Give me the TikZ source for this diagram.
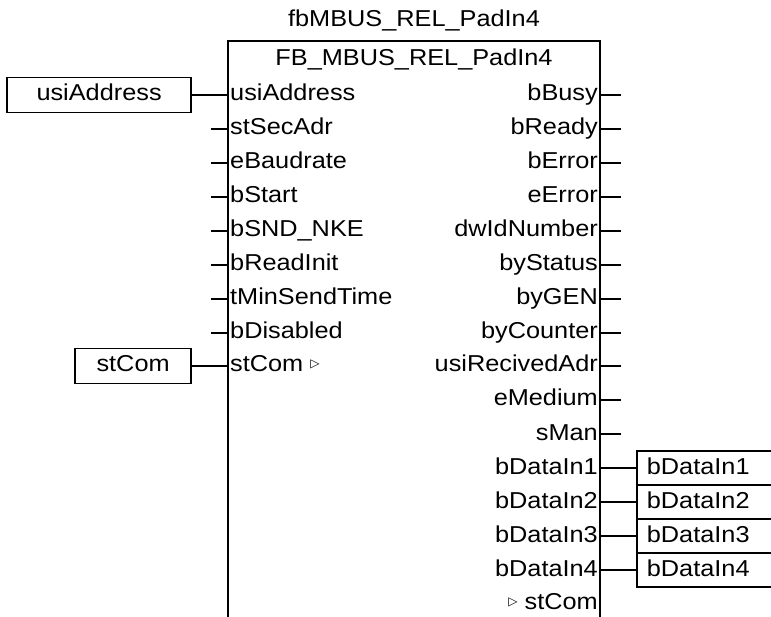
\documentclass[tikz,border=0pt]{standalone}
\usepackage{fontspec}
\setmainfont{Liberation Sans}[FakeStretch=1.1]
\newfontfamily\symfont{DejaVu Sans}
\usetikzlibrary{positioning}
\tikzset{
  fbtext/.style = {inner sep=0pt, text height=17pt, text depth=5pt, font=\fontsize{23}{26}\selectfont},
  pinin/.style  = {fbtext, anchor=west, inner xsep=2pt},
  pinout/.style = {fbtext, anchor=east, inner xsep=2pt},
  varin/.style  = {fbtext, draw, line width=1.8pt, minimum height=35pt},
  varout/.style = {fbtext, draw, line width=1.8pt, minimum height=34pt, inner xsep=10pt},
  wire/.style   = {line width=1.8pt},
}
\newcommand{\reftri}{\raisebox{4pt}{\symfont\fontsize{12}{12}\selectfont ▷}}
\newcommand{\outvar}[1]{\makebox[170pt][l]{#1}}

\begin{document}
\begin{tikzpicture}[x=1pt, y=-1pt]
      \useasboundingbox (0,0) rectangle (771,617);
      \clip (0,0) rectangle (771,617);
      %block
      \node[fbtext] (instname) at (414,21) {fbMBUS\_REL\_PadIn4};
      \node[fbtext] (typename) at (414,60) {FB\_MBUS\_REL\_PadIn4};
      \draw[wire] (228,617) -- (228,41) -- (600,41) -- (600,617);

      %inputs
      \node[pinin] (usiAddrIn) at (228,95) {usiAddress};
      \node[pinin] (stSecAdrIn) at (228,129) {stSecAdr};
      \node[pinin] (eBaudrateIn) at (228,163) {eBaudrate};
      \node[pinin] (bStartIn) at (228,197) {bStart};
      \node[pinin] (bSndNkeIn) at (228,231) {bSND\_NKE};
      \node[pinin] (bReadInitIn) at (228,265) {bReadInit};
      \node[pinin] (tMinSendIn) at (228,299) {tMinSendTime};
      \node[pinin] (bDisabledIn) at (228,333) {bDisabled};
      \node[pinin] (stComIn) at (228,366) {stCom \reftri};

      %outputs
      \node[pinout] (bBusyOut) at (600,95) {bBusy};
      \node[pinout] (bReadyOut) at (600,129) {bReady};
      \node[pinout] (bErrorOut) at (600,163) {bError};
      \node[pinout] (eErrorOut) at (600,197) {eError};
      \node[pinout] (dwIdOut) at (600,231) {dwIdNumber};
      \node[pinout] (byStatusOut) at (600,265) {byStatus};
      \node[pinout] (byGenOut) at (600,299) {byGEN};
      \node[pinout] (byCounterOut) at (600,333) {byCounter};
      \node[pinout] (usiRecOut) at (600,366) {usiRecivedAdr};
      \node[pinout] (eMediumOut) at (600,400) {eMedium};
      \node[pinout] (sManOut) at (600,434) {sMan};
      \node[pinout] (bData1Out) at (600,468) {bDataIn1};
      \node[pinout] (bData2Out) at (600,502) {bDataIn2};
      \node[pinout] (bData3Out) at (600,536) {bDataIn3};
      \node[pinout] (bData4Out) at (600,570) {bDataIn4};
      \node[pinout] (stComOut) at (600,603) {\reftri\ stCom};

      %variables
      \node[varin, minimum width=184pt, left=36pt of usiAddrIn] (usiAddrVar) {usiAddress};
      \node[varin, minimum width=116pt, left=36pt of stComIn] (stComVar) {stCom};
      \node[varout, right=36pt of bData1Out] (bData1Var) {\outvar{bDataIn1}};
      \node[varout, right=36pt of bData2Out] (bData2Var) {\outvar{bDataIn2}};
      \node[varout, right=36pt of bData3Out] (bData3Var) {\outvar{bDataIn3}};
      \node[varout, right=36pt of bData4Out] (bData4Var) {\outvar{bDataIn4}};

      \draw[wire] (usiAddrVar.east) -- (usiAddrIn.west);
      \draw[wire] (stComVar.east) -- (stComIn.west);
      \draw[wire] (bData1Out.east) -- (bData1Var.west);
      \draw[wire] (bData2Out.east) -- (bData2Var.west);
      \draw[wire] (bData3Out.east) -- (bData3Var.west);
      \draw[wire] (bData4Out.east) -- (bData4Var.west);

      %open pins
      \draw[wire] (stSecAdrIn.west) -- ++(-17,0);
      \draw[wire] (eBaudrateIn.west) -- ++(-17,0);
      \draw[wire] (bStartIn.west) -- ++(-17,0);
      \draw[wire] (bSndNkeIn.west) -- ++(-17,0);
      \draw[wire] (bReadInitIn.west) -- ++(-17,0);
      \draw[wire] (tMinSendIn.west) -- ++(-17,0);
      \draw[wire] (bDisabledIn.west) -- ++(-17,0);
      \draw[wire] (bBusyOut.east) -- ++(21,0);
      \draw[wire] (bReadyOut.east) -- ++(21,0);
      \draw[wire] (bErrorOut.east) -- ++(21,0);
      \draw[wire] (eErrorOut.east) -- ++(21,0);
      \draw[wire] (dwIdOut.east) -- ++(21,0);
      \draw[wire] (byStatusOut.east) -- ++(21,0);
      \draw[wire] (byGenOut.east) -- ++(21,0);
      \draw[wire] (byCounterOut.east) -- ++(21,0);
      \draw[wire] (usiRecOut.east) -- ++(21,0);
      \draw[wire] (eMediumOut.east) -- ++(21,0);
      \draw[wire] (sManOut.east) -- ++(21,0);

\end{tikzpicture}
\end{document}
